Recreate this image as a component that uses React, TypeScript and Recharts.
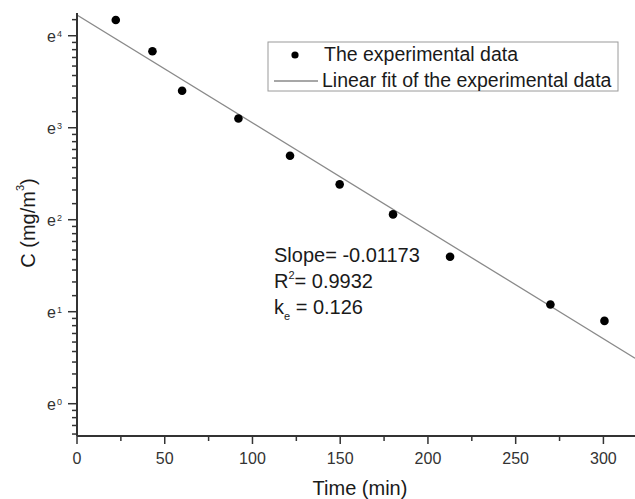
import React from 'react';
import { ComposedChart, Scatter, Line, XAxis, YAxis } from 'recharts';

// time (min) of each sample
const times = [22.1, 43.0, 59.9, 92.0, 121.4, 149.7, 180.1, 212.6, 269.8, 300.6];
// concentration C (mg/m3)
const conc = [64.8, 46.1, 30.0, 22.2, 14.8, 10.85, 7.83, 4.94, 2.94, 2.46];

// end points of the linear fit (ln C = 4.225 - 0.01173 t)
const fitTimes = [0, 318];
const fitConc = [68.4, 1.64];

const xTicks = [0, 25, 50, 75, 100, 125, 150, 175, 200, 225, 250, 275, 300];
const yExponents = [0, 1, 2, 3, 4];

const expData = times.map((t, i) => ({ t, c: conc[i] }));
const fitData = fitTimes.map((t, i) => ({ t, c: fitConc[i] }));

const yMin = Math.exp(-0.351);
const yMax = Math.exp(4.247);
const majorY = yExponents.map(n => Math.exp(n));

// minor ticks: 8 evenly spaced values between consecutive powers of e
const minorY: number[] = [];
for (let n = -1; n <= 4; n++) {
  const lo = Math.exp(n);
  const hi = Math.exp(n + 1);
  for (let k = 1; k <= 8; k++) {
    const v = lo + (k * (hi - lo)) / 9;
    if (v > yMin && v < yMax) minorY.push(v);
  }
}
const yTicks = [...majorY, ...minorY].sort((a, b) => a - b);

const FONT = '"Liberation Sans", Arial, sans-serif';
const AXIS = '#333';

const XTick = ({ x, y, payload }: any) => {
  const major = payload.value % 50 === 0;
  return (
    <g>
      <line x1={x} y1={y} x2={x} y2={y + (major ? 8 : 5)} stroke={AXIS} strokeWidth={1.5} />
      {major && (
        <text x={x} y={y + 28} textAnchor="middle" fontSize={16} fill={AXIS} fontFamily={FONT}>
          {payload.value}
        </text>
      )}
    </g>
  );
};

const YTick = ({ x, y, payload }: any) => {
  const idx = majorY.findIndex(v => Math.abs(v - payload.value) < 1e-6);
  const major = idx >= 0;
  return (
    <g>
      <line x1={x} y1={y} x2={x - (major ? 9 : 5)} y2={y} stroke={AXIS} strokeWidth={1.5} />
      {major && (
        <text x={x - 15} y={y + 6} textAnchor="end" fontSize={16} fill={AXIS} fontFamily={FONT}>
          e
          <tspan dy={-5} dx={1} fontSize={9}>
            {yExponents[idx]}
          </tspan>
        </text>
      )}
    </g>
  );
};

const Dot = ({ cx, cy }: any) => <circle cx={cx} cy={cy} r={4.3} fill="#000" />;

export default function App() {
  return (
    <div style={{ position: 'absolute', left: 0, top: 0, width: 635, height: 499, background: '#fff' }}>
      <ComposedChart
        width={635}
        height={499}
        margin={{ top: 13, right: 0, bottom: 0, left: 0 }}
        style={{ fontFamily: FONT }}
      >
        <XAxis
          dataKey="t"
          type="number"
          domain={[0, 318]}
          ticks={xTicks}
          interval={0}
          height={63}
          tickSize={0}
          tickMargin={0}
          tick={<XTick />}
          axisLine={{ stroke: AXIS, strokeWidth: 2 }}
          allowDataOverflow
        />
        <YAxis
          dataKey="c"
          type="number"
          scale="log"
          domain={[yMin, yMax]}
          ticks={yTicks}
          interval={0}
          width={77}
          tickSize={0}
          tickMargin={0}
          tick={<YTick />}
          axisLine={{ stroke: AXIS, strokeWidth: 2 }}
          allowDataOverflow
        />
        <Line
          data={fitData}
          dataKey="c"
          type="linear"
          stroke="#8a8a8a"
          strokeWidth={1.3}
          dot={false}
          activeDot={false}
          isAnimationActive={false}
        />
        <Scatter data={expData} dataKey="c" fill="#000" shape={<Dot />} isAnimationActive={false} />

        {/* legend */}
        <rect x={268} y={42} width={350} height={49} fill="#fff" stroke="#9a9a9a" strokeWidth={1} />
        <circle cx={295} cy={55} r={3.6} fill="#000" />
        <text x={324} y={61} fontSize={19.5} fill="#1a1a1a" fontFamily={FONT}>
          The experimental data
        </text>
        <line x1={274} y1={81} x2={318} y2={81} stroke="#8a8a8a" strokeWidth={1.3} />
        <text x={322} y={87} fontSize={19.5} fill="#1a1a1a" fontFamily={FONT}>
          Linear fit of the experimental data
        </text>

        {/* fit annotation */}
        <text x={274} y={262} fontSize={20} fill="#1a1a1a" fontFamily={FONT}>
          Slope= -0.01173
        </text>
        <text x={274} y={288} fontSize={20} fill="#1a1a1a" fontFamily={FONT}>
          R<tspan dy={-9} fontSize={11}>2</tspan>
          <tspan dy={9}>= 0.9932</tspan>
        </text>
        <text x={274} y={314} fontSize={20} fill="#1a1a1a" fontFamily={FONT}>
          k<tspan dy={6} fontSize={11}>e</tspan>
          <tspan dy={-6}> = 0.126</tspan>
        </text>

        {/* axis titles */}
        <text x={360} y={495} textAnchor="middle" fontSize={20} fill="#1a1a1a" fontFamily={FONT}>
          Time (min)
        </text>
        <text
          x={28}
          y={223}
          transform="rotate(-90, 28, 223)"
          textAnchor="middle"
          dominantBaseline="central"
          fontSize={20}
          fill="#1a1a1a"
          fontFamily={FONT}
        >
          C (mg/m<tspan dy={-8} fontSize={11}>3</tspan>
          <tspan dy={8}>)</tspan>
        </text>
      </ComposedChart>
    </div>
  );
}
